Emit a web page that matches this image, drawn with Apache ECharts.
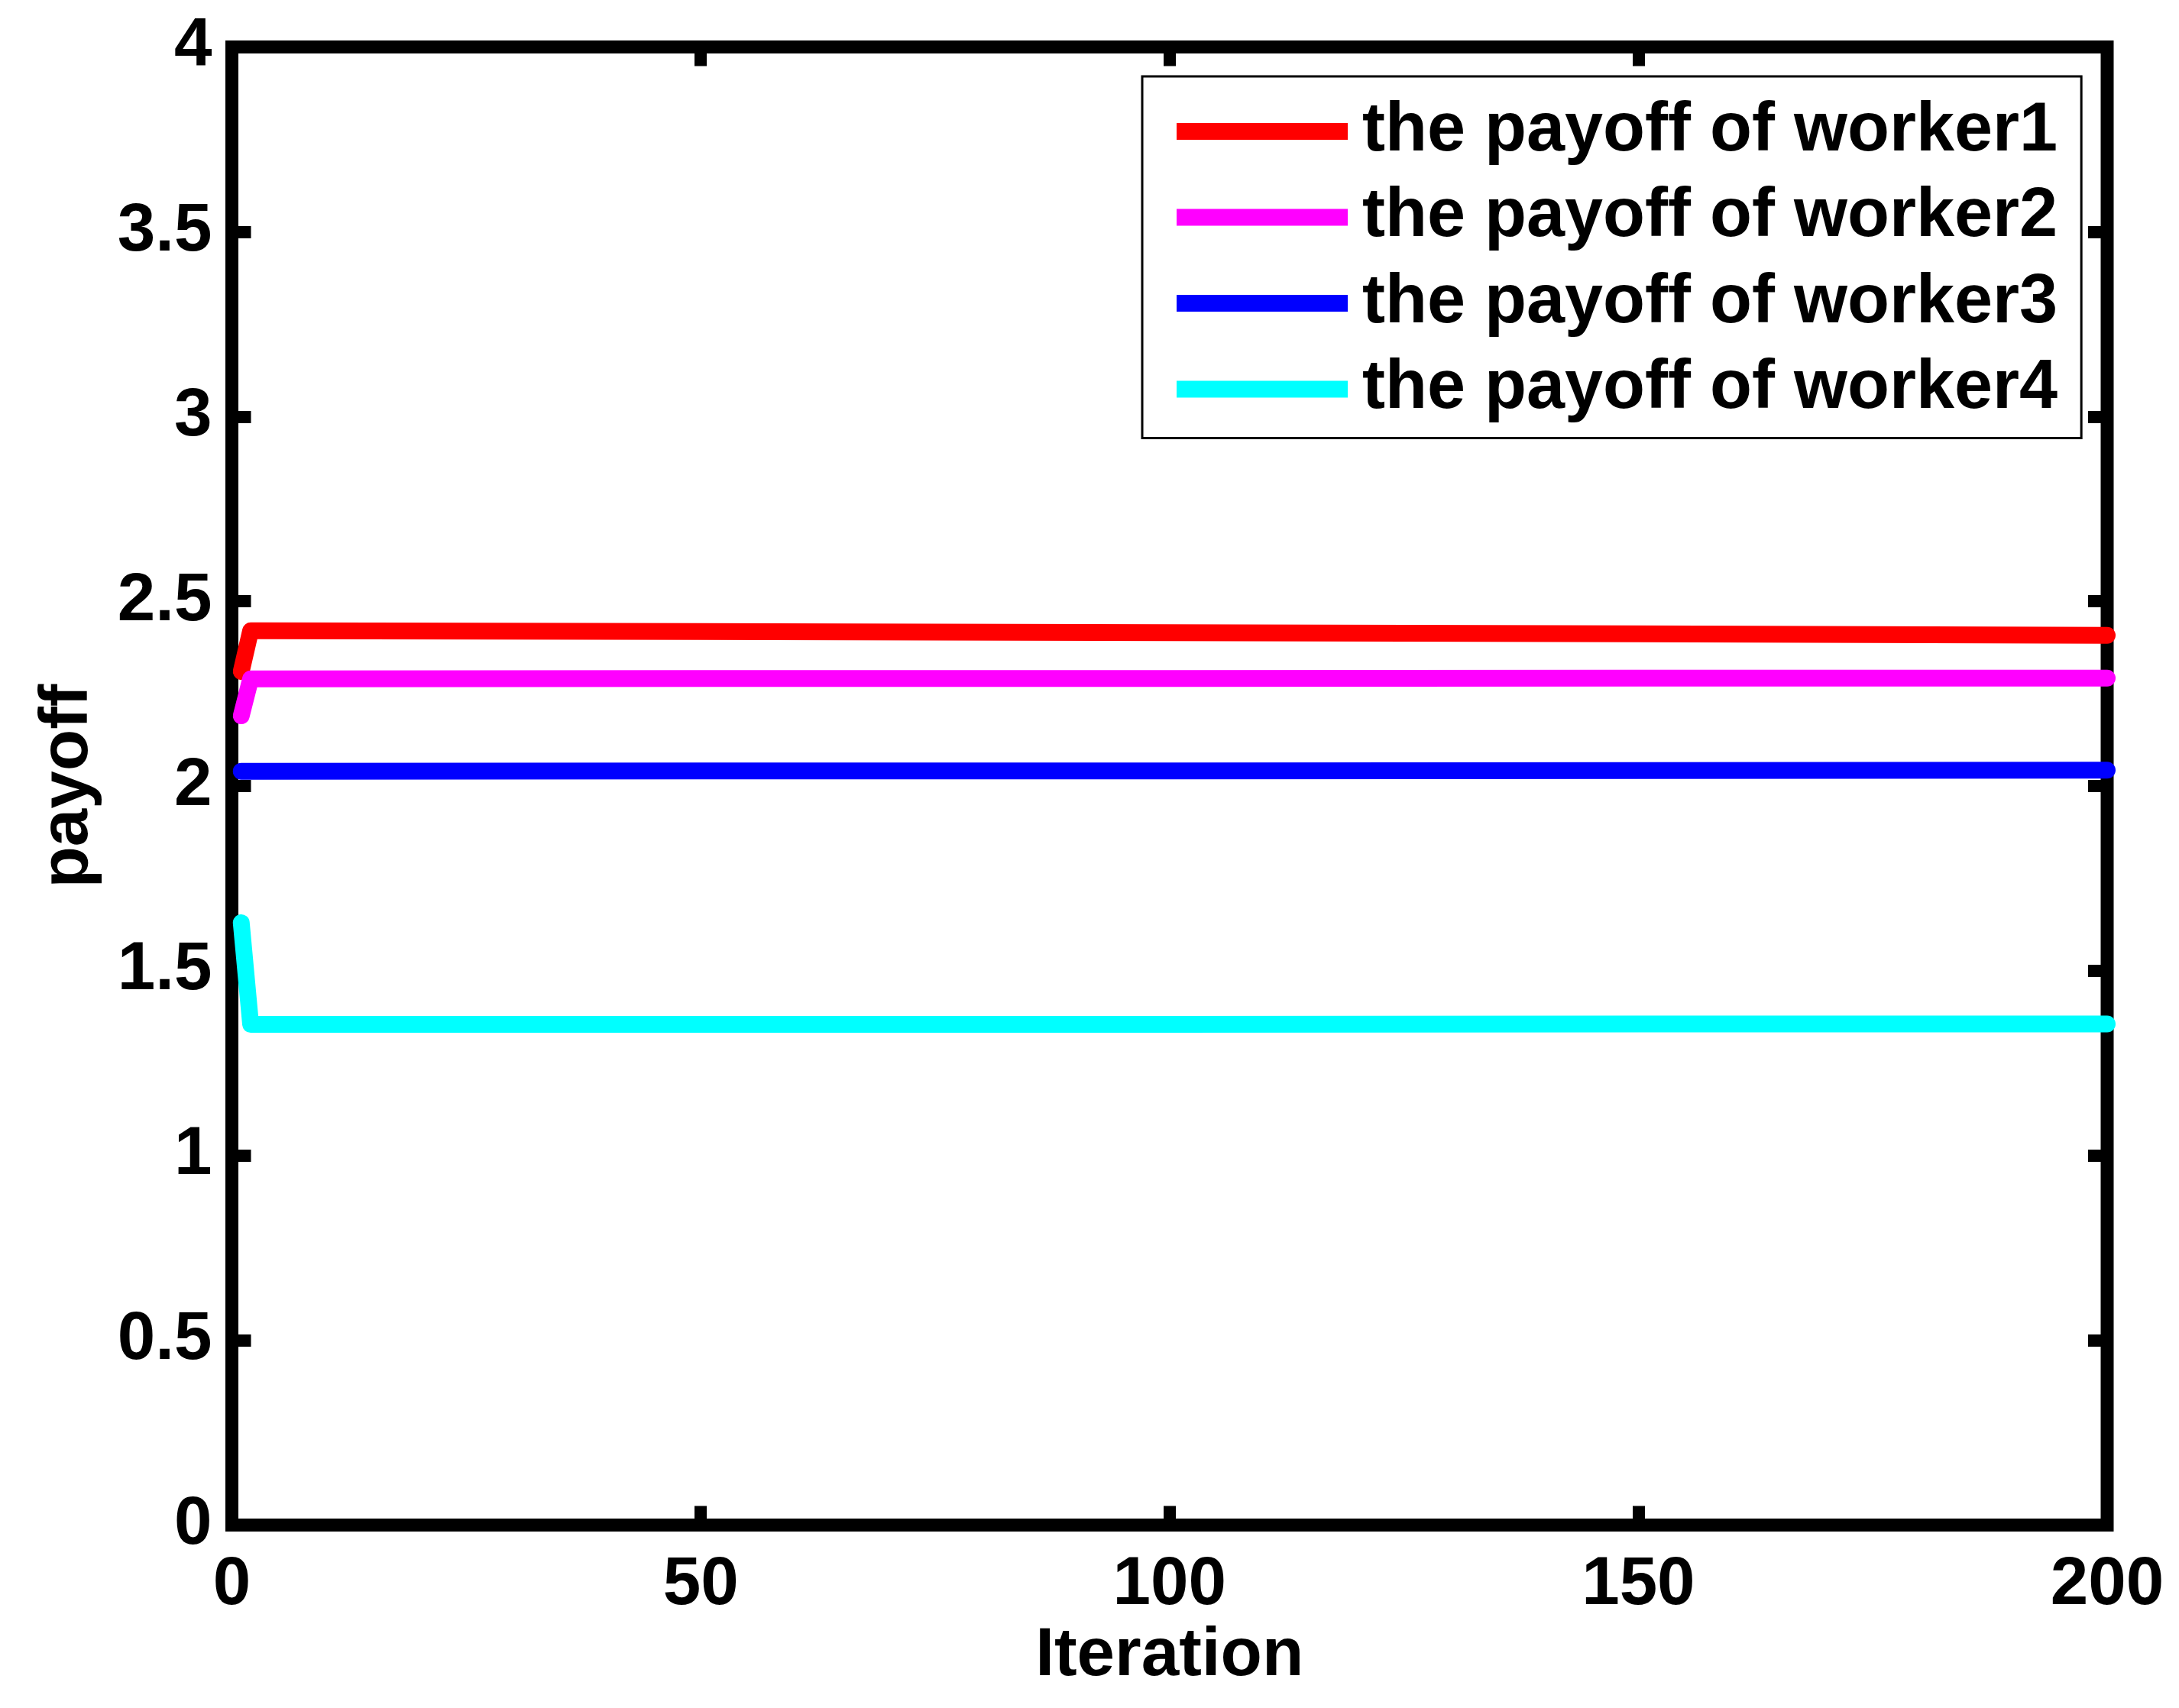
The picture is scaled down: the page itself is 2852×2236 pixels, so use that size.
<!DOCTYPE html>
<html>
<head>
<meta charset="utf-8">
<script src="https://cdn.jsdelivr.net/npm/echarts@6/dist/echarts.min.js"></script>
<style>html,body{margin:0;padding:0;background:#fff}#c{width:2852px;height:2236px}</style>
</head>
<body>
<div id="c"></div>
<script>
const iterations = [1, 2, 3, 50, 100, 150, 200];
const worker1 = [2.31, 2.42, 2.42, 2.418, 2.415, 2.412, 2.408];
const worker2 = [2.19, 2.29, 2.29, 2.291, 2.291, 2.292, 2.292];
const worker3 = [2.04, 2.04, 2.04, 2.041, 2.041, 2.042, 2.043];
const worker4 = [1.63, 1.355, 1.355, 1.355, 1.355, 1.356, 1.356];
const seriesNames = ['the payoff of worker1', 'the payoff of worker2', 'the payoff of worker3', 'the payoff of worker4'];
const seriesColors = ['#ff0000', '#ff00ff', '#0000ff', '#00ffff'];
const xTicks = [0, 50, 100, 150, 200];
const yTicks = [0, 0.5, 1, 1.5, 2, 2.5, 3, 3.5, 4];

const FONT = "'Liberation Sans', Arial, Helvetica, sans-serif";
const FS = 89;
const allData = [worker1, worker2, worker3, worker4];

const chart = echarts.init(document.getElementById('c'), null, {renderer: 'canvas'});
const tickStyle = {show: true, inside: true, length: 25, lineStyle: {color: '#000', width: 16}};
const xBase = {type: 'value', min: xTicks[0], max: xTicks[xTicks.length - 1], interval: 50, splitLine: {show: false},
  axisLine: {show: false, onZero: false}, axisTick: tickStyle};
const yBase = {type: 'value', min: yTicks[0], max: yTicks[yTicks.length - 1], interval: 0.5, splitLine: {show: false},
  axisLine: {show: false, onZero: false}, axisTick: tickStyle};

chart.setOption({
  animation: false,
  backgroundColor: '#fff',
  grid: {left: 303.5, right: 94, top: 61.5, bottom: 239.5, containLabel: false, outerBoundsMode: 'none',
    show: true, borderColor: '#000', borderWidth: 17, backgroundColor: 'transparent'},
  legend: {
    show: true, orient: 'vertical', left: 1495, top: 100,
    padding: [27, 31, 19, 45], itemGap: 22.5,
    borderColor: '#000', borderWidth: 3, backgroundColor: '#fff',
    icon: 'rect', itemWidth: 224, itemHeight: 22,
    textStyle: {fontFamily: FONT, fontWeight: 'bold', fontSize: 90, color: '#000', lineHeight: 90, padding: [0, 0, 0, 14]},
    data: seriesNames
  },
  xAxis: [
    Object.assign({}, xBase, {position: 'bottom', name: 'Iteration', nameLocation: 'middle', nameGap: 110,
      nameTextStyle: {fontFamily: FONT, fontWeight: 'bold', fontSize: FS, color: '#000'},
      axisLabel: {show: true, margin: 34, fontFamily: FONT, fontWeight: 'bold', fontSize: FS, color: '#000'}}),
    Object.assign({}, xBase, {position: 'top', axisLabel: {show: false}})
  ],
  yAxis: [
    Object.assign({}, yBase, {position: 'left', name: 'payoff', nameLocation: 'middle', nameGap: 170,
      nameTextStyle: {fontFamily: FONT, fontWeight: 'bold', fontSize: FS, color: '#000'},
      axisLabel: {show: true, margin: 26, fontFamily: FONT, fontWeight: 'bold', fontSize: FS, color: '#000'}}),
    Object.assign({}, yBase, {position: 'right', axisLabel: {show: false}})
  ],
  series: seriesNames.map((n, i) => ({
    name: n, type: 'line', xAxisIndex: 0, yAxisIndex: 0,
    data: iterations.map((x, j) => [x, allData[i][j]]),
    showSymbol: false, symbol: 'none', clip: false,
    color: seriesColors[i],
    itemStyle: {color: seriesColors[i]},
    lineStyle: {color: seriesColors[i], width: 22, cap: 'round', join: 'round'},
    z: 2
  }))
});
</script>
</body>
</html>
